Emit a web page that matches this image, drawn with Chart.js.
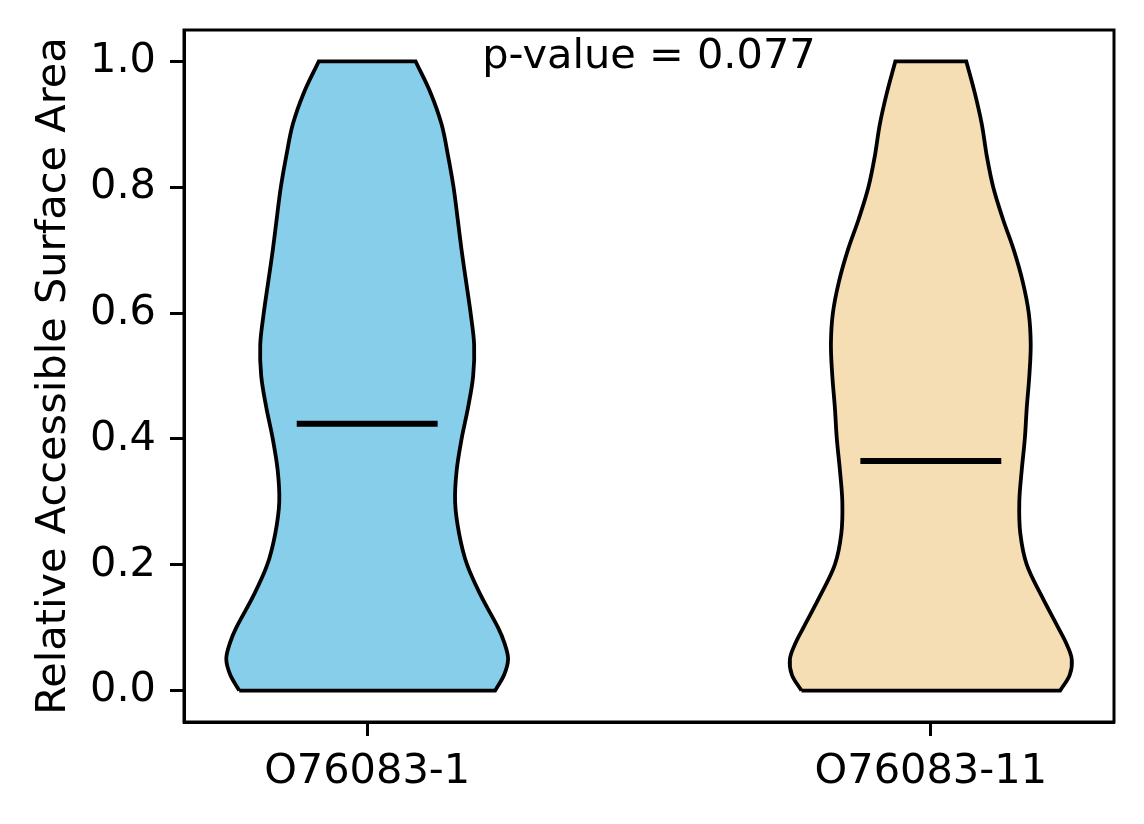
<!DOCTYPE html>
<html>
<head>
<meta charset="utf-8">
<script src="https://cdn.jsdelivr.net/npm/chart.js@4.4.1/dist/chart.umd.min.js"></script>
<style>
  html, body { margin: 0; padding: 0; background: #fff; }
  #wrap { width: 1144px; height: 824px; }
</style>
</head>
<body>
<div id="wrap"><canvas id="c" width="1144" height="824"></canvas></div>
<script>
// ---- data ----
const categories = ['O76083-1', 'O76083-11'];
const positions = [1, 2];
// RSA grid (y values) at which violin densities were read
const rsaGrid = [0, 0.025, 0.05, 0.075, 0.1, 0.15, 0.2, 0.25, 0.3, 0.35, 0.4, 0.45,
                 0.5, 0.55, 0.6, 0.65, 0.7, 0.75, 0.8, 0.85, 0.9, 0.95, 1.0];
// normalized density (max = 1) for each violin
const density1 = [0.908, 0.972, 1.0, 0.975, 0.929, 0.809, 0.709, 0.652, 0.624, 0.635, 0.670, 0.716,
                  0.752, 0.759, 0.734, 0.702, 0.670, 0.642, 0.613, 0.574, 0.528, 0.450, 0.344];
const density2 = [0.918, 0.986, 1.0, 0.961, 0.904, 0.787, 0.681, 0.635, 0.628, 0.645, 0.667, 0.681,
                  0.699, 0.709, 0.695, 0.652, 0.589, 0.511, 0.443, 0.397, 0.362, 0.312, 0.252];
const medians = [0.424, 0.365];
const yTicks = [0.0, 0.2, 0.4, 0.6, 0.8, 1.0];
const pText = 'p-value = 0.077';
const yTitle = 'Relative Accessible Surface Area';
const colors = ['#87CEEB', '#F5DEB3'];

// ---- styling constants ----
const FONT = 'DejaVu Sans';
const FS = 41.5;
const VIOLIN_HALF = 0.25;   // max half width (widths = 0.5)
const MEDIAN_HALF = 0.125;

function violinPoints(pos, dens) {
  const pts = [];
  const n = rsaGrid.length;
  pts.push({x: pos - dens[0] * VIOLIN_HALF, y: rsaGrid[0]});
  for (let j = 0; j < n; j++) pts.push({x: pos - dens[j] * VIOLIN_HALF, y: rsaGrid[j]});
  pts.push({x: pos - dens[n - 1] * VIOLIN_HALF, y: rsaGrid[n - 1]});
  pts.push({x: pos + dens[n - 1] * VIOLIN_HALF, y: rsaGrid[n - 1]});
  for (let j = n - 1; j >= 0; j--) pts.push({x: pos + dens[j] * VIOLIN_HALF, y: rsaGrid[j]});
  pts.push({x: pos + dens[0] * VIOLIN_HALF, y: rsaGrid[0]});
  pts.push({x: pos - dens[0] * VIOLIN_HALF, y: rsaGrid[0]});
  pts.push({x: pos - dens[0] * VIOLIN_HALF, y: rsaGrid[0]});
  return pts;
}

const allDens = [density1, density2];
const datasets = [];
positions.forEach((pos, i) => {
  datasets.push({
    data: violinPoints(pos, allDens[i]),
    showLine: true,
    fill: 'shape',
    backgroundColor: colors[i],
    borderColor: '#000',
    borderWidth: 3.8,
    borderJoinStyle: 'miter',
    tension: 0.35,
    pointRadius: 0,
    order: 2
  });
});
positions.forEach((pos, i) => {
  datasets.push({
    data: [{x: pos - MEDIAN_HALF, y: medians[i]}, {x: pos + MEDIAN_HALF, y: medians[i]}],
    showLine: true,
    fill: false,
    borderColor: '#000',
    borderWidth: 6,
    borderCapStyle: 'butt',
    tension: 0,
    pointRadius: 0,
    order: 1
  });
});

const framePlugin = {
  id: 'frame',
  afterDraw(chart) {
    const {ctx, chartArea: a, scales} = chart;
    ctx.save();
    ctx.strokeStyle = '#000';
    ctx.lineWidth = 3;
    ctx.strokeRect(a.left, a.top, a.right - a.left, a.bottom - a.top);
    ctx.fillStyle = '#000';
    ctx.font = FS + 'px "' + FONT + '"';
    ctx.textAlign = 'center';
    ctx.textBaseline = 'alphabetic';
    ctx.fillText(pText, scales.x.getPixelForValue(1.5), scales.y.getPixelForValue(0.99));
    ctx.restore();
  }
};

new Chart(document.getElementById('c'), {
  type: 'scatter',
  data: { datasets },
  options: {
    responsive: false,
    animation: false,
    devicePixelRatio: 1,
    layout: { padding: { left: 0, top: 30, right: 30, bottom: 0 } },
    plugins: { legend: { display: false }, tooltip: { enabled: false } },
    scales: {
      x: {
        type: 'linear',
        min: 0.675, max: 2.325,
        afterBuildTicks(scale) { scale.ticks = positions.map(v => ({value: v})); },
        afterFit(scale) { scale.height = 102; scale.paddingLeft = 0; scale.paddingRight = 0; },
        grid: { drawOnChartArea: false, drawTicks: true, tickLength: 14, tickColor: '#000', tickWidth: 3 },
        border: { display: true, color: '#000', width: 3 },
        ticks: {
          color: '#000', padding: 11, maxRotation: 0, autoSkip: false,
          font: { family: FONT, size: FS },
          callback(v) { const i = positions.indexOf(v); return i >= 0 ? categories[i] : ''; }
        }
      },
      y: {
        type: 'linear',
        min: -0.05, max: 1.05,
        afterBuildTicks(scale) { scale.ticks = yTicks.map(v => ({value: v})); },
        afterFit(scale) { scale.width = 184; scale.paddingTop = 0; scale.paddingBottom = 0; },
        grid: { drawOnChartArea: false, drawTicks: true, tickLength: 14, tickColor: '#000', tickWidth: 3 },
        border: { display: true, color: '#000', width: 3 },
        ticks: {
          color: '#000', padding: 14, autoSkip: false,
          font: { family: FONT, size: FS },
          callback(v) { return Number(v).toFixed(1); }
        },
        title: {
          display: true, text: yTitle, color: '#000',
          font: { family: FONT, size: FS },
          padding: { top: 29, bottom: 0 }
        }
      }
    }
  },
  plugins: [framePlugin]
});
</script>
</body>
</html>
